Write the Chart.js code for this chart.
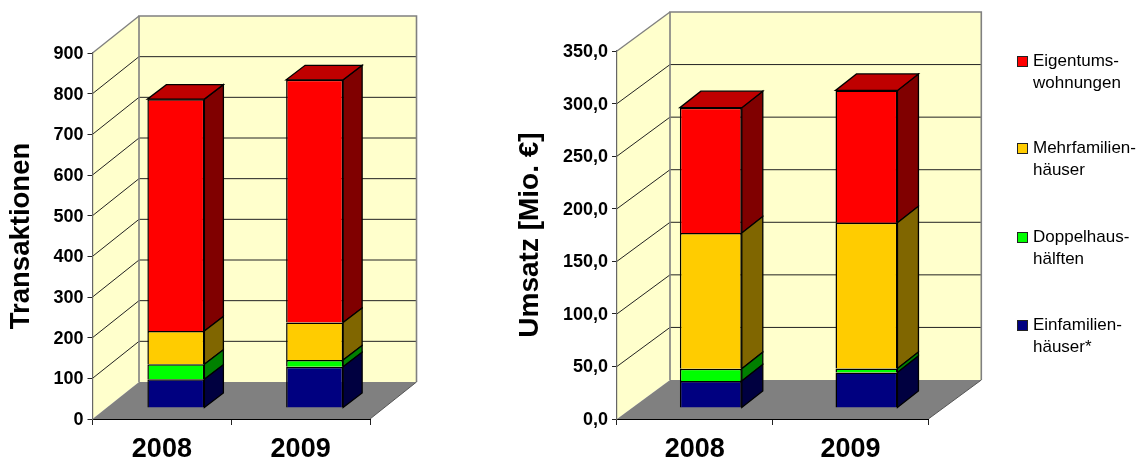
<!DOCTYPE html>
<html><head><meta charset="utf-8">
<script src="https://cdn.jsdelivr.net/npm/chart.js@4"></script>
<style>html,body{margin:0;padding:0;background:#fff;width:1145px;height:462px;overflow:hidden}
canvas{position:absolute;top:0}</style></head>
<body>
<canvas id="c1" width="500" height="462" style="left:0;width:500px;height:462px"></canvas>
<canvas id="c2" width="645" height="462" style="left:500px;width:645px;height:462px"></canvas>
<script>
const categories = ['2008','2009'];
const seriesNames = [['Einfamilien-','häuser*'],['Doppelhaus-','hälften'],['Mehrfamilien-','häuser'],['Eigentums-','wohnungen']];
const transEin = [70.5,101.5];
const transDop = [37,16.5];
const transMeh = [82,92];
const transEig = [570,597];
const umsEin = [25.7,33.8];
const umsDop = [11.7,3.8];
const umsMeh = [129,138.6];
const umsEig = [119.2,125.8];
const frontColors = ['#000080','#00FF00','#FFCC00','#FF0000'];
const sideColors = ['#000040','#008000','#806600','#800000'];
const topColor = '#BF0000';
const WALL='#FFFFCC', FLOOR='#808080', EDGE='#808080';

function poly(ctx,pts,fill,stroke,lw){
  ctx.beginPath();pts.forEach((p,i)=>i?ctx.lineTo(p[0],p[1]):ctx.moveTo(p[0],p[1]));ctx.closePath();
  if(fill){ctx.fillStyle=fill;ctx.fill();}
  if(stroke){ctx.strokeStyle=stroke;ctx.lineWidth=lw||1;ctx.stroke();}
}
const box3d = {
  id:'box3d',
  beforeDraw(chart,args,o){
    const {ctx,chartArea:a}=chart, y=chart.scales.y, dx=o.depth[0], dy=o.depth[1];
    ctx.save();
    poly(ctx,[[a.left,a.top],[a.left+dx,a.top+dy],[a.left+dx,a.bottom+dy],[a.left,a.bottom]],WALL);
    poly(ctx,[[a.left+dx,a.top+dy],[a.right+dx,a.top+dy],[a.right+dx,a.bottom+dy],[a.left+dx,a.bottom+dy]],WALL);
    y.ticks.forEach(t=>{
      if(t.value===0)return;
      const p=y.getPixelForValue(t.value);
      ctx.beginPath();ctx.moveTo(a.left,p);ctx.lineTo(a.left+dx,p+dy);
      if(t.value!==y.max)ctx.lineTo(a.right+dx,p+dy);
      ctx.strokeStyle=t.value===y.max?EDGE:'#222';ctx.lineWidth=t.value===y.max?1.4:1;ctx.stroke();
    });
    ctx.beginPath();ctx.moveTo(a.left+dx,a.bottom+dy);ctx.lineTo(a.left+dx,a.top+dy);ctx.lineTo(a.right+dx,a.top+dy);ctx.lineTo(a.right+dx,a.bottom+dy);
    ctx.strokeStyle=EDGE;ctx.lineWidth=1.6;ctx.stroke();
    poly(ctx,[[a.left,a.bottom],[a.right,a.bottom],[a.right+dx,a.bottom+dy],[a.left+dx,a.bottom+dy]],FLOOR);
    ctx.beginPath();ctx.moveTo(a.right,a.bottom);ctx.lineTo(a.right+dx,a.bottom+dy);
    ctx.strokeStyle='#555';ctx.lineWidth=1;ctx.stroke();
    ctx.restore();
  },
  beforeDatasetDraw(chart,args,o){
    const {ctx}=chart, i=args.index, ox=o.offset[0], oy=o.offset[1], sx=o.side[0], sy=o.side[1];
    const last=chart.data.datasets.length-1;
    ctx.save();
    ctx.translate(ox,oy);
    args.meta.data.forEach(el=>{
      const {x,y,base,width}=el.getProps(['x','y','base','width'],true);
      const l=x-width/2,r=x+width/2;
      poly(ctx,[[r,y],[r+sx,y+sy],[r+sx,base+sy],[r,base]],sideColors[i],'#000',1.3);
      if(i===last) poly(ctx,[[l,y],[r,y],[r+sx,y+sy],[l+sx,y+sy]],topColor,'#000',1.3);
    });
  },
  afterDatasetDraw(chart){ chart.ctx.restore(); }
};
const legend3d = {
  id:'legend3d',
  afterDraw(chart,args,o){
    if(!o.show)return;
    const {ctx}=chart, ds=chart.data.datasets;
    ctx.save();
    ctx.font='17px "Liberation Sans"';ctx.textBaseline='middle';ctx.textAlign='left';
    o.rowY.forEach((yy,k)=>{
      const d=ds[ds.length-1-k];
      ctx.fillStyle=d.backgroundColor;ctx.fillRect(o.swatchX,yy-5,11,11);
      ctx.strokeStyle='#222';ctx.lineWidth=1;ctx.strokeRect(o.swatchX+.5,yy-4.5,10,10);
      ctx.fillStyle='#000';
      d.label.forEach((t,n)=>ctx.fillText(t,o.textX,yy+n*22));
    });
    ctx.restore();
  }
};
function makeChart(id,vals,cfg){
  const datasets=vals.map((v,i)=>({label:seriesNames[i],data:v,backgroundColor:frontColors[i],borderColor:'#000',borderWidth:1.5,clip:false,
    barPercentage:cfg.barPct,categoryPercentage:1}));
  return new Chart(document.getElementById(id),{
    type:'bar',
    data:{labels:categories,datasets},
    plugins:[box3d,legend3d],
    options:{
      responsive:false,animation:false,devicePixelRatio:1,
      layout:{padding:{top:cfg.padTop,right:cfg.padRight,left:0,bottom:0}},
      plugins:{legend:{display:false},tooltip:{enabled:false},title:{display:false},
        box3d:{depth:cfg.depth,offset:cfg.offset,side:cfg.side},
        legend3d:cfg.legend},
      scales:{
        x:{stacked:true,
          afterFit(s){s.height=43;},
          grid:{drawOnChartArea:false,drawTicks:true,tickLength:6,color:'#222',offset:true},
          border:{color:'#000',width:1},
          ticks:{color:'#000',font:{family:'Liberation Sans',weight:'bold',size:27},padding:8,maxRotation:0}},
        y:{stacked:true,min:0,max:cfg.max,
          afterFit(s){s.width=cfg.axisW;},
          grid:{drawOnChartArea:false,drawTicks:true,tickLength:5,color:'#222'},
          border:{color:'#666',width:1.2},
          title:{display:true,text:cfg.title,color:'#000',font:{family:'Liberation Sans',weight:'bold',size:cfg.titleSize},padding:{top:cfg.titlePad,bottom:0}},
          ticks:{stepSize:cfg.step,color:'#000',font:{family:'Liberation Sans',weight:'bold',size:18},padding:4,labelOffset:1,callback:cfg.fmt}}
      }
    }
  });
}
makeChart('c1',[transEin,transDop,transMeh,transEig],{
  barPct:0.411,padTop:53,padRight:130,axisW:92.5,max:900,step:100,title:'Transaktionen',titleSize:27.5,titlePad:5,
  depth:[46.5,-37],offset:[14,-11],side:[19,-14.5],fmt:v=>String(v),legend:{show:false}});
makeChart('c2',[umsEin,umsDop,umsMeh,umsEig],{
  barPct:0.398,padTop:51,padRight:216.7,axisW:117,max:350,step:50,title:'Umsatz [Mio. €]',titleSize:28,titlePad:13,
  depth:[53,-39],offset:[16,-11],side:[21,-16.5],fmt:v=>v.toFixed(1).replace('.',','),
  legend:{show:true,swatchX:517,textX:533,rowY:[61,148,237,325]}});
</script>
</body></html>
